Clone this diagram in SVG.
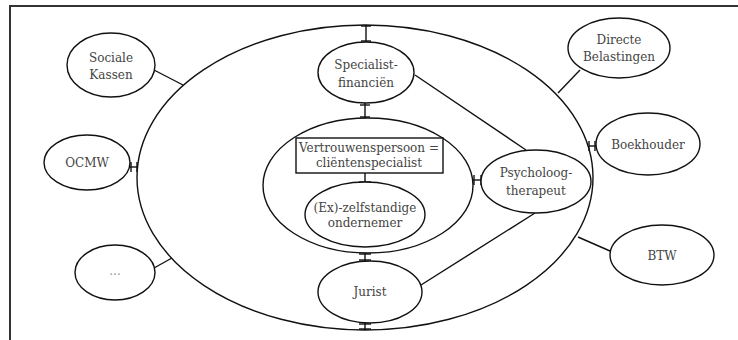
<svg xmlns="http://www.w3.org/2000/svg" width="738" height="340" viewBox="0 0 738 340">
<style>
.shape{fill:none;stroke:#111;stroke-width:1.4}
.box{fill:#fff;stroke:#111;stroke-width:1.4}
.conn{fill:none;stroke:#111;stroke-width:1.4}
text{font-family:"DejaVu Serif","Liberation Serif",serif;font-size:12px;fill:#444;text-anchor:middle;dominant-baseline:central}
</style>
<rect x="0" y="0" width="738" height="340" fill="#fff"/>
<rect x="10" y="6" width="800" height="400" fill="none" stroke="#333" stroke-width="2"/>
<g id="outer-circle"><ellipse class="shape" cx="365" cy="177.5" rx="228" ry="152.5"/></g>
<g id="inner-circle"><ellipse class="shape" cx="368" cy="185.5" rx="105" ry="67.5"/></g>
<g id="connectors">
<line class="conn" x1="366" y1="25" x2="366" y2="42"/><line class="conn" x1="361" y1="26" x2="371" y2="26"/><line class="conn" x1="361" y1="41" x2="371" y2="41"/>
<line class="conn" x1="365" y1="103" x2="365" y2="118"/><line class="conn" x1="360" y1="105" x2="370" y2="105"/><line class="conn" x1="360" y1="117" x2="370" y2="117"/>
<line class="conn" x1="365" y1="173" x2="365" y2="183"/><line class="conn" x1="359" y1="182" x2="371" y2="182"/>
<line class="conn" x1="365" y1="253" x2="365" y2="261"/><line class="conn" x1="359" y1="254" x2="371" y2="254"/><line class="conn" x1="359" y1="260" x2="371" y2="260"/>
<line class="conn" x1="365" y1="323" x2="365" y2="330"/><line class="conn" x1="359" y1="324" x2="371" y2="324"/><line class="conn" x1="359" y1="329" x2="371" y2="329"/>
<line class="conn" x1="473" y1="180" x2="482" y2="180"/><line class="conn" x1="474" y1="175" x2="474" y2="185"/><line class="conn" x1="481" y1="175" x2="481" y2="185"/>
<line class="conn" x1="415" y1="75" x2="526" y2="150"/>
<line class="conn" x1="535" y1="213" x2="421" y2="285"/>
<line class="conn" x1="154" y1="70" x2="183" y2="85"/>
<line class="conn" x1="130" y1="167" x2="138" y2="167"/><line class="conn" x1="131" y1="162" x2="131" y2="172"/><line class="conn" x1="137" y1="162" x2="137" y2="172"/>
<line class="conn" x1="154" y1="268" x2="172" y2="258"/>
<line class="conn" x1="580" y1="70" x2="558" y2="93"/>
<line class="conn" x1="589" y1="146" x2="596" y2="146"/><line class="conn" x1="589" y1="141" x2="589" y2="151"/><line class="conn" x1="595" y1="141" x2="595" y2="151"/>
<line class="conn" x1="578" y1="237" x2="610" y2="251"/>
</g>
<g id="specialist"><ellipse class="box" cx="366" cy="72.5" rx="48" ry="30.5"/><text x="366" y="65">Specialist-</text><text x="366" y="83">financiën</text></g>
<g id="vertrouwenspersoon"><rect class="box" x="296" y="138" width="147" height="35"/><text x="369" y="148">Vertrouwenspersoon =</text><text x="369" y="163">cliëntenspecialist</text></g>
<g id="zelfstandige"><ellipse class="box" cx="365" cy="214.5" rx="60" ry="32.5"/><text x="365" y="208">(Ex)-zelfstandige</text><text x="365" y="223">ondernemer</text></g>
<g id="jurist"><ellipse class="box" cx="370" cy="292" rx="52" ry="31"/><text x="370" y="292">Jurist</text></g>
<g id="psycholoog"><ellipse class="box" cx="536" cy="181.5" rx="55" ry="31.5"/><text x="536" y="173">Psycholoog-</text><text x="536" y="191">therapeut</text></g>
<g id="sociale-kassen"><ellipse class="box" cx="111" cy="65" rx="44" ry="32"/><text x="111" y="58">Sociale</text><text x="111" y="75">Kassen</text></g>
<g id="ocmw"><ellipse class="box" cx="87" cy="162.5" rx="43" ry="27.5"/><text x="87" y="163">OCMW</text></g>
<g id="dots"><ellipse class="box" cx="115" cy="272.5" rx="40" ry="27.5"/><text x="115" y="271" style="fill:#999">...</text></g>
<g id="directe-belastingen"><ellipse class="box" cx="619" cy="48" rx="51" ry="30"/><text x="619" y="40">Directe</text><text x="619" y="57">Belastingen</text></g>
<g id="boekhouder"><ellipse class="box" cx="648" cy="144" rx="52" ry="31"/><text x="648" y="145">Boekhouder</text></g>
<g id="btw"><ellipse class="box" cx="662" cy="255" rx="52" ry="30"/><text x="662" y="256">BTW</text></g>
</svg>
